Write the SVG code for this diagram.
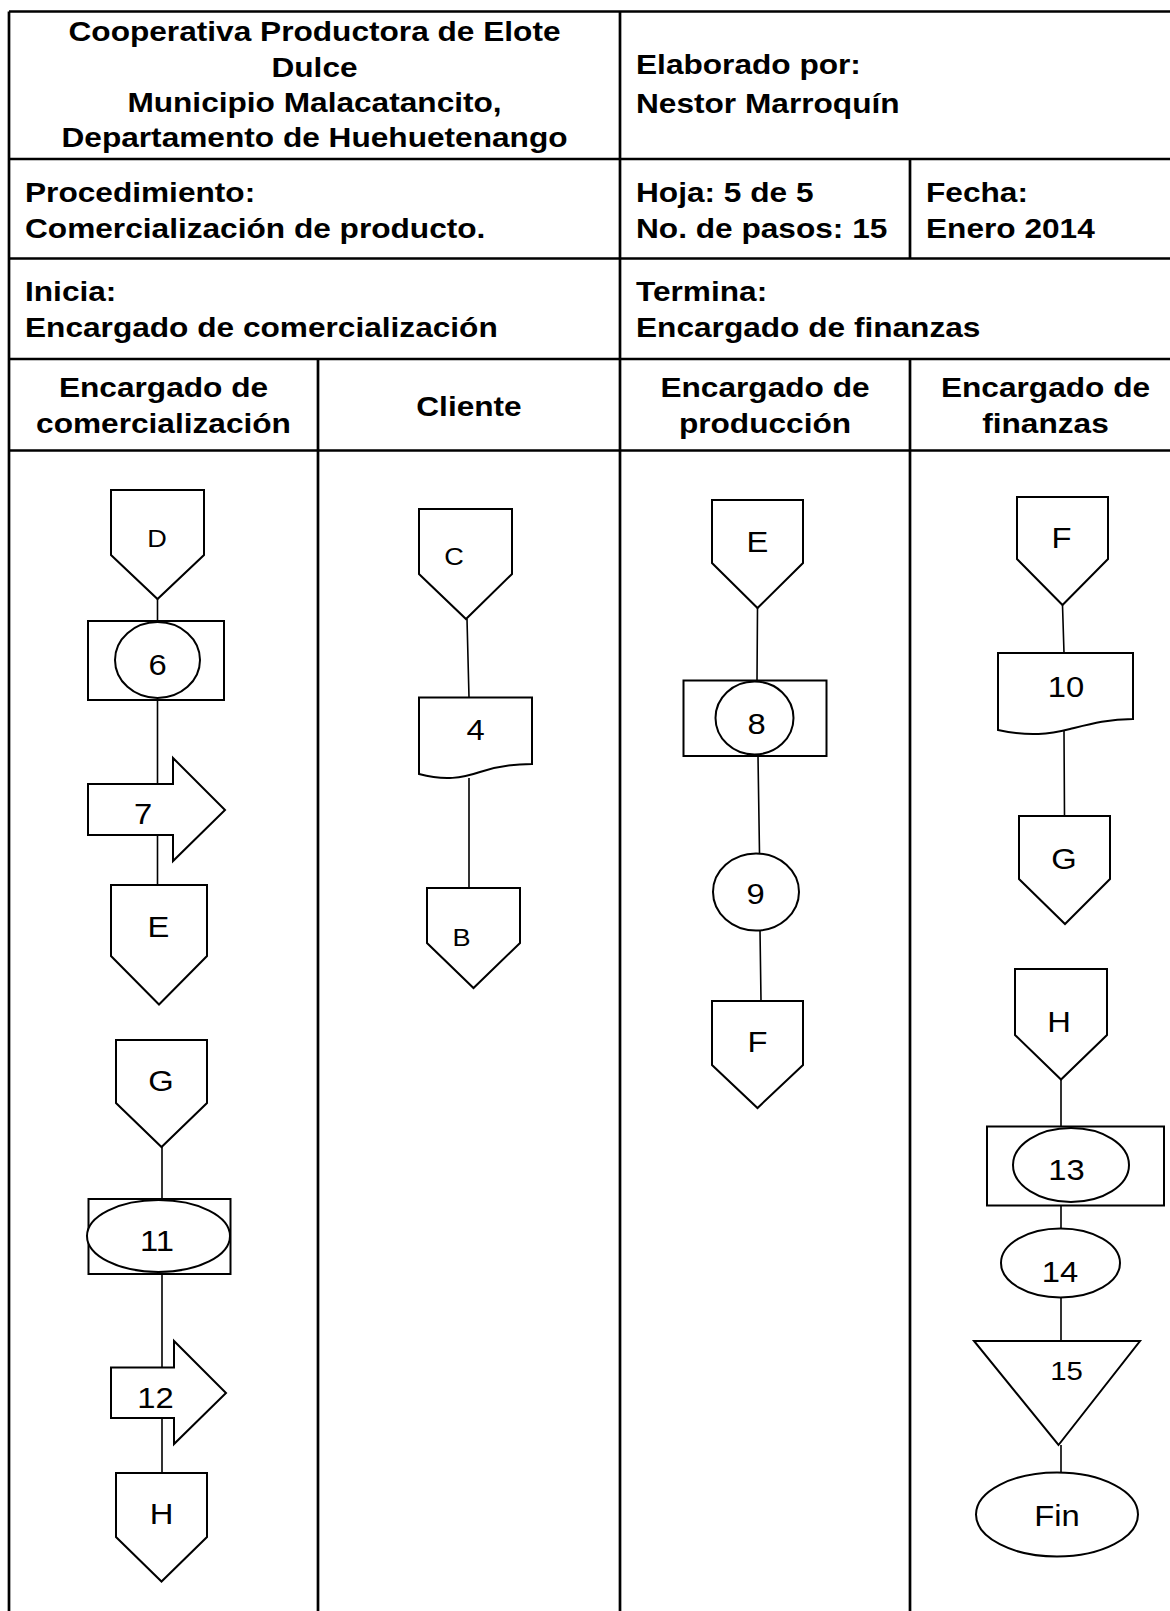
<svg xmlns="http://www.w3.org/2000/svg" width="1170" height="1611" viewBox="0 0 1170 1611">
  <style>
    .grid { fill: none; stroke: #000; stroke-width: 2.7; }
    .shape { fill: #fff; stroke: #000; stroke-width: 2; stroke-linejoin: miter; }
    .conn { fill: none; stroke: #000; stroke-width: 1.6; }
    .hb { font-family: "Liberation Sans", Arial, sans-serif; font-weight: bold; font-size: 28px; fill: #000; }
    .hc { text-anchor: middle; }
    .n { font-family: "Liberation Sans", Arial, sans-serif; font-size: 29px; fill: #000; text-anchor: middle; }
    .s { font-size: 24px; }
    .t { font-size: 26px; }
  </style>

  <rect width="1170" height="1611" fill="#fff"/>

  <!-- Form table -->
  <g id="table">
    <path class="grid" d="M9,11.5 H1182 M9,159 H1182 M9,258.5 H1182 M9,359 H1182 M9,450.5 H1182
                          M9,11.5 V1620 M620,11.5 V1620 M318,359 V1620
                          M910,159 V258.5 M910,359 V1620"/>
    <text class="hb hc" transform="matrix(1.13 0 0 1 314.5 41)">Cooperativa Productora de Elote</text>
    <text class="hb hc" transform="matrix(1.13 0 0 1 314.5 77)">Dulce</text>
    <text class="hb hc" transform="matrix(1.13 0 0 1 314.5 112)">Municipio Malacatancito,</text>
    <text class="hb hc" transform="matrix(1.13 0 0 1 314.5 147)">Departamento de Huehuetenango</text>
    <text class="hb" transform="matrix(1.13 0 0 1 636 73.5)">Elaborado por:</text>
    <text class="hb" transform="matrix(1.13 0 0 1 636 113)">Nestor Marroquín</text>
    <text class="hb" transform="matrix(1.13 0 0 1 25 201.5)">Procedimiento:</text>
    <text class="hb" transform="matrix(1.13 0 0 1 25 238)">Comercialización de producto.</text>
    <text class="hb" transform="matrix(1.13 0 0 1 636 201.5)">Hoja: 5 de 5</text>
    <text class="hb" transform="matrix(1.13 0 0 1 636 238)">No. de pasos: 15</text>
    <text class="hb" transform="matrix(1.13 0 0 1 926 201.5)">Fecha:</text>
    <text class="hb" transform="matrix(1.13 0 0 1 926 238)">Enero 2014</text>
    <text class="hb" transform="matrix(1.13 0 0 1 25 300.5)">Inicia:</text>
    <text class="hb" transform="matrix(1.13 0 0 1 25 336.5)">Encargado de comercialización</text>
    <text class="hb" transform="matrix(1.13 0 0 1 636 300.5)">Termina:</text>
    <text class="hb" transform="matrix(1.13 0 0 1 636 336.5)">Encargado de finanzas</text>
    <text class="hb hc" transform="matrix(1.13 0 0 1 163.5 397)">Encargado de</text>
    <text class="hb hc" transform="matrix(1.13 0 0 1 163.5 433)">comercialización</text>
    <text class="hb hc" transform="matrix(1.13 0 0 1 469 416)">Cliente</text>
    <text class="hb hc" transform="matrix(1.13 0 0 1 765 397)">Encargado de</text>
    <text class="hb hc" transform="matrix(1.13 0 0 1 765 433)">producción</text>
    <text class="hb hc" transform="matrix(1.13 0 0 1 1045.5 397)">Encargado de</text>
    <text class="hb hc" transform="matrix(1.13 0 0 1 1045.5 433)">finanzas</text>
  </g>

  <!-- Flow lines -->
  <g id="connectors">
    <path class="conn" d="M157.5,599 V621 M157.5,700 V784 M157.5,835 V885"/>
    <path class="conn" d="M162,1147 V1199 M162,1274 V1367.5 M162,1418 V1473"/>
    <path class="conn" d="M467,619 L469,697.5 M469,778 V888"/>
    <path class="conn" d="M757.5,608 L757,680.5 M758,756 L759.5,853.5 M760,930 L761,1001"/>
    <path class="conn" d="M1062.5,605 L1064,653 M1064,731 L1064.5,816"/>
    <path class="conn" d="M1061,1079.5 V1126.5 M1061,1205.5 V1229 M1061,1297.5 V1341 M1061,1445 V1472.5"/>
  </g>

  <!-- Encargado de comercialización -->
  <g id="con-D">
    <polygon class="shape" points="111,490 204,490 204,555 157.5,599 111,555"/>
    <text class="n s" transform="matrix(1.13 0 0 1 157 547)">D</text>
  </g>
  <g id="step-6">
    <rect class="shape" x="88" y="621" width="136" height="79"/>
    <ellipse class="shape" cx="157.5" cy="660" rx="42.5" ry="38"/>
    <text class="n" transform="matrix(1.13 0 0 1 157.5 674.5)">6</text>
  </g>
  <g id="step-7">
    <polygon class="shape" points="88,784 173,784 173,758 225,810 173,861 173,835 88,835"/>
    <text class="n" transform="matrix(1.13 0 0 1 143 824)">7</text>
  </g>
  <g id="con-E-out">
    <polygon class="shape" points="111,885 207,885 207,956 159,1004.5 111,956"/>
    <text class="n" transform="matrix(1.13 0 0 1 158.5 936.5)">E</text>
  </g>
  <g id="con-G-in">
    <polygon class="shape" points="116,1040 207,1040 207,1103 161.5,1147 116,1103"/>
    <text class="n" transform="matrix(1.13 0 0 1 161 1091)">G</text>
  </g>
  <g id="step-11">
    <rect class="shape" x="88.5" y="1199" width="142" height="75"/>
    <ellipse class="shape" cx="158.5" cy="1236" rx="71.5" ry="36"/>
    <text class="n" transform="matrix(1.13 0 0 1 157 1251)">11</text>
  </g>
  <g id="step-12">
    <polygon class="shape" points="111,1367.5 174,1367.5 174,1341 226,1393 174,1444 174,1418 111,1418"/>
    <text class="n" transform="matrix(1.13 0 0 1 155.5 1407.5)">12</text>
  </g>
  <g id="con-H-out">
    <polygon class="shape" points="116,1473 207,1473 207,1537 161.5,1581.5 116,1537"/>
    <text class="n" transform="matrix(1.13 0 0 1 161.5 1524)">H</text>
  </g>

  <!-- Cliente -->
  <g id="con-C">
    <polygon class="shape" points="419,509 512,509 512,574 466,619 419,574"/>
    <text class="n s" transform="matrix(1.13 0 0 1 454 565)">C</text>
  </g>
  <g id="step-4">
    <path class="shape" d="M419,697.5 H532 V764 C510,764 495,767 480,772 C462,778 445,781 419,774 Z"/>
    <text class="n" transform="matrix(1.13 0 0 1 475.5 740)">4</text>
  </g>
  <g id="con-B">
    <polygon class="shape" points="427,888 520,888 520,943 473.5,988 427,943"/>
    <text class="n s" transform="matrix(1.13 0 0 1 461.5 945.5)">B</text>
  </g>

  <!-- Encargado de producción -->
  <g id="con-E-in">
    <polygon class="shape" points="712,500 803,500 803,563 757.5,608 712,563"/>
    <text class="n" transform="matrix(1.13 0 0 1 757.5 551.5)">E</text>
  </g>
  <g id="step-8">
    <rect class="shape" x="683.5" y="680.5" width="143" height="75.5"/>
    <ellipse class="shape" cx="754.5" cy="718" rx="39" ry="36.5"/>
    <text class="n" transform="matrix(1.13 0 0 1 756.5 733.5)">8</text>
  </g>
  <g id="step-9">
    <ellipse class="shape" cx="756" cy="892" rx="43" ry="38.5"/>
    <text class="n" transform="matrix(1.13 0 0 1 755.5 904)">9</text>
  </g>
  <g id="con-F-out">
    <polygon class="shape" points="712,1001 803,1001 803,1065 757.5,1108 712,1065"/>
    <text class="n" transform="matrix(1.13 0 0 1 757.5 1051.5)">F</text>
  </g>

  <!-- Encargado de finanzas -->
  <g id="con-F-in">
    <polygon class="shape" points="1017,497 1108,497 1108,559 1062.5,605 1017,559"/>
    <text class="n" transform="matrix(1.13 0 0 1 1061.5 548)">F</text>
  </g>
  <g id="step-10">
    <path class="shape" d="M998,653 H1133 V719 C1108,719 1090,724 1070,729 C1050,734 1030,737 998,730 Z"/>
    <text class="n" transform="matrix(1.13 0 0 1 1066 696.5)">10</text>
  </g>
  <g id="con-G-out">
    <polygon class="shape" points="1019,816 1110,816 1110,879 1065,924 1019,879"/>
    <text class="n" transform="matrix(1.13 0 0 1 1064 869)">G</text>
  </g>
  <g id="con-H-in">
    <polygon class="shape" points="1015,969 1107,969 1107,1035 1061,1079.5 1015,1035"/>
    <text class="n" transform="matrix(1.13 0 0 1 1059 1032)">H</text>
  </g>
  <g id="step-13">
    <rect class="shape" x="987" y="1126.5" width="177" height="79"/>
    <ellipse class="shape" cx="1071" cy="1165" rx="58" ry="37"/>
    <text class="n" transform="matrix(1.13 0 0 1 1066.5 1179.5)">13</text>
  </g>
  <g id="step-14">
    <ellipse class="shape" cx="1060.5" cy="1263" rx="59.5" ry="34.5"/>
    <text class="n" transform="matrix(1.13 0 0 1 1060 1282)">14</text>
  </g>
  <g id="step-15">
    <polygon class="shape" points="974,1341 1140,1341 1058.5,1445"/>
    <text class="n t" transform="matrix(1.13 0 0 1 1066.5 1379.5)">15</text>
  </g>
  <g id="end">
    <ellipse class="shape" cx="1057" cy="1514.5" rx="81" ry="42"/>
    <text class="n" transform="matrix(1.13 0 0 1 1057 1526)">Fin</text>
  </g>
</svg>
